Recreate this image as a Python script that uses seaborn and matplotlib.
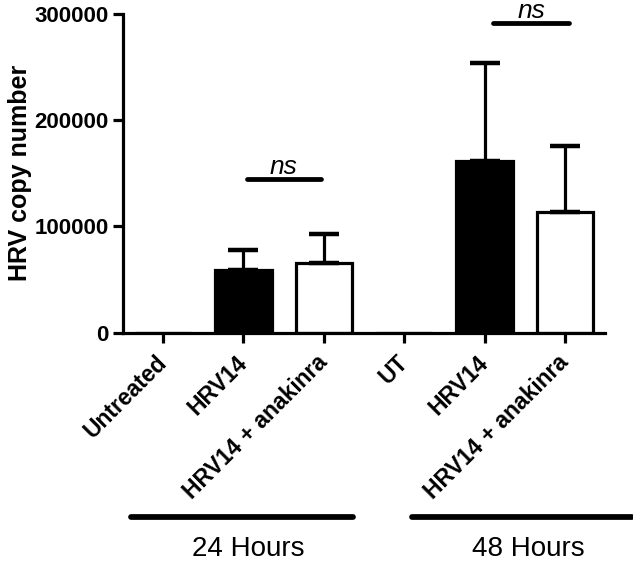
import matplotlib
import matplotlib.pyplot as plt
import matplotlib.transforms as mtransforms
import numpy as np
import pandas as pd
import seaborn as sns

matplotlib.use("Agg")
sns.set_style("ticks")
plt.rcParams["font.family"] = ["Liberation Sans", "DejaVu Sans"]
plt.rcParams["text.color"] = "black"
plt.rcParams["axes.labelcolor"] = "black"
plt.rcParams["xtick.color"] = "black"
plt.rcParams["ytick.color"] = "black"

# data
keys = ["u24", "h24", "a24", "u48", "h48", "a48"]
tick_labels = ["Untreated", "HRV14", "HRV14 + anakinra", "UT", "HRV14", "HRV14 + anakinra"]
treatment = ["none", "HRV14", "anakinra", "none", "HRV14", "anakinra"]
copy_number = [0, 59000, 66000, 0, 162000, 114000]
error_upper = [0, 19000, 27000, 0, 92000, 62000]
groups = ["24 Hours", "48 Hours"]
group_spans = [(-0.4, 2.36), (3.1, 5.84)]
group_text_x = [1.06, 4.54]
ns_spans = [(1.05, 1.96), (4.11, 5.05)]
ns_heights = [145000, 292000]
yticks = [0, 100000, 200000, 300000]

fill = {"none": "white", "HRV14": "black", "anakinra": "white"}
lw = 2.3

df = pd.DataFrame({"key": keys, "treatment": treatment, "copies": copy_number})

fig = plt.figure(figsize=(6.33, 5.61), dpi=100)
ax = fig.add_axes([0.194, 0.407, 0.762, 0.568])

sns.barplot(
    data=df, x="key", y="copies", hue="treatment", palette=fill,
    order=keys, width=0.7, dodge=False, legend=False,
    edgecolor="black", linewidth=lw, ax=ax,
)

xpos = np.arange(len(keys))
has_err = np.array(error_upper) > 0
ax.errorbar(
    xpos[has_err], np.array(copy_number)[has_err],
    yerr=[np.zeros(has_err.sum()), np.array(error_upper)[has_err]],
    fmt="none", ecolor="black", elinewidth=lw, capsize=11, capthick=lw * 1.4,
    zorder=1,
)

for (x0, x1), h in zip(ns_spans, ns_heights):
    ax.plot([x0, x1], [h, h], color="black", lw=lw * 1.5,
            solid_capstyle="round", clip_on=False)
    ax.text((x0 + x1) / 2, h + 4500, "ns", ha="center", va="baseline",
            fontsize=19, style="italic")

trans = mtransforms.blended_transform_factory(ax.transData, ax.transAxes)
for name, (x0, x1), tx in zip(groups, group_spans, group_text_x):
    ax.plot([x0, x1], [-0.577, -0.577], color="black", lw=lw * 1.8,
            solid_capstyle="round", transform=trans, clip_on=False)
    ax.text(tx, -0.68, name, ha="center", va="center", fontsize=20,
            transform=trans)

ax.set_xlim(-0.5, 5.5)
ax.set_ylim(0, 300000)
ax.set_yticks(yticks)
ax.set_yticklabels([str(v) for v in yticks], fontsize=16, fontweight="bold")
ax.set_xticks(xpos)
ax.set_xticklabels(tick_labels, rotation=45, ha="right", va="center",
                   rotation_mode="anchor", fontsize=16.5, fontweight="bold")
ax.set_xlabel("")
ax.set_ylabel("HRV copy number", fontsize=18, fontweight="bold", labelpad=2)

ax.tick_params(axis="both", width=lw, length=7, color="black", pad=3)
ax.tick_params(axis="x", pad=12)
for side in ["left", "bottom"]:
    ax.spines[side].set_linewidth(lw)
    ax.spines[side].set_color("black")
sns.despine(ax=ax)

fig.savefig("out.png", dpi=100)
